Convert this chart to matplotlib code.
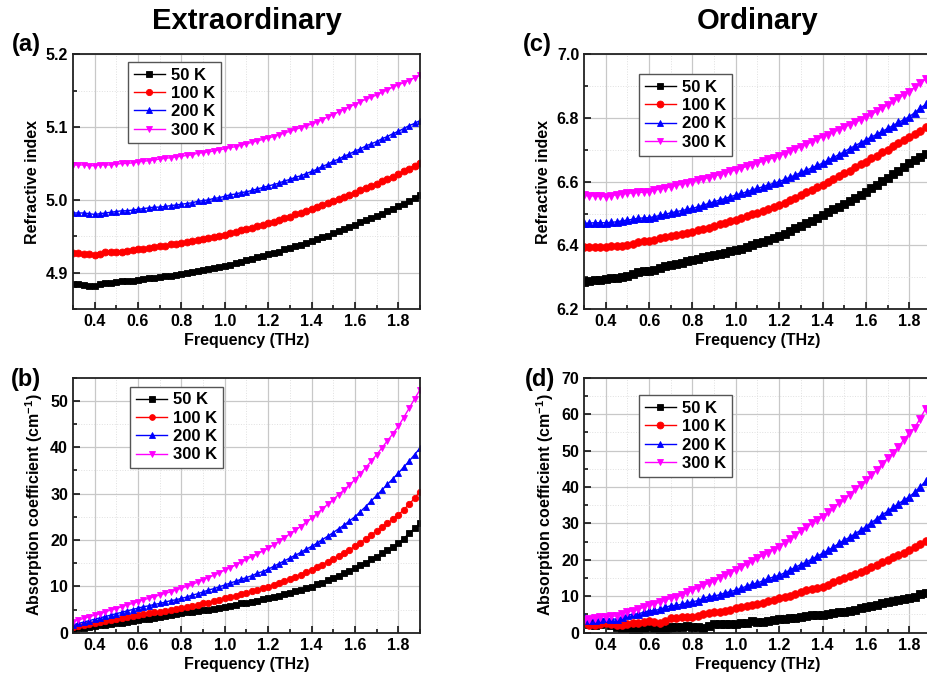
import matplotlib
matplotlib.use("Agg")
import matplotlib.pyplot as plt
from matplotlib.ticker import MultipleLocator

plt.rcParams["font.family"] = ["Liberation Sans", "DejaVu Sans"]
plt.rcParams["font.weight"] = "bold"
plt.rcParams["axes.labelweight"] = "bold"
plt.rcParams["mathtext.fontset"] = "custom"
plt.rcParams["mathtext.rm"] = "Liberation Sans:bold"
plt.rcParams["mathtext.bf"] = "Liberation Sans:bold"

# frequency grid (THz)
freq = [0.300, 0.325, 0.350, 0.375, 0.400, 0.425, 0.450, 0.475,
        0.500, 0.525, 0.550, 0.575, 0.600, 0.625, 0.650, 0.675,
        0.700, 0.725, 0.750, 0.775, 0.800, 0.825, 0.850, 0.875,
        0.900, 0.925, 0.950, 0.975, 1.000, 1.025, 1.050, 1.075,
        1.100, 1.125, 1.150, 1.175, 1.200, 1.225, 1.250, 1.275,
        1.300, 1.325, 1.350, 1.375, 1.400, 1.425, 1.450, 1.475,
        1.500, 1.525, 1.550, 1.575, 1.600, 1.625, 1.650, 1.675,
        1.700, 1.725, 1.750, 1.775, 1.800, 1.825, 1.850, 1.875,
        1.900]

labels = ["50 K", "100 K", "200 K", "300 K"]

# (a) extraordinary refractive index
n_e_50 = [4.884, 4.884, 4.883, 4.882, 4.881, 4.884, 4.886, 4.886,
          4.887, 4.888, 4.888, 4.889, 4.890, 4.891, 4.892, 4.893,
          4.894, 4.895, 4.896, 4.897, 4.898, 4.899, 4.901, 4.902,
          4.903, 4.905, 4.906, 4.908, 4.909, 4.911, 4.913, 4.915,
          4.917, 4.919, 4.921, 4.923, 4.925, 4.927, 4.929, 4.932,
          4.934, 4.936, 4.938, 4.941, 4.943, 4.946, 4.949, 4.951,
          4.954, 4.957, 4.960, 4.963, 4.966, 4.969, 4.972, 4.975,
          4.978, 4.981, 4.985, 4.988, 4.991, 4.995, 4.999, 5.002,
          5.006]
n_e_100 = [4.927, 4.927, 4.926, 4.925, 4.924, 4.926, 4.928, 4.928,
           4.929, 4.929, 4.930, 4.931, 4.932, 4.933, 4.934, 4.935,
           4.936, 4.937, 4.939, 4.940, 4.941, 4.942, 4.944, 4.945,
           4.946, 4.948, 4.949, 4.951, 4.952, 4.954, 4.956, 4.958,
           4.960, 4.962, 4.964, 4.966, 4.968, 4.970, 4.972, 4.975,
           4.977, 4.980, 4.982, 4.985, 4.987, 4.990, 4.993, 4.996,
           4.999, 5.001, 5.004, 5.007, 5.010, 5.013, 5.016, 5.019,
           5.022, 5.026, 5.029, 5.032, 5.035, 5.039, 5.043, 5.047,
           5.051]
n_e_200 = [4.982, 4.982, 4.982, 4.981, 4.980, 4.981, 4.982, 4.983,
           4.984, 4.985, 4.985, 4.986, 4.987, 4.988, 4.989, 4.990,
           4.990, 4.991, 4.992, 4.993, 4.994, 4.995, 4.996, 4.998,
           4.999, 5.000, 5.002, 5.003, 5.005, 5.007, 5.008, 5.010,
           5.011, 5.013, 5.015, 5.017, 5.019, 5.021, 5.023, 5.026,
           5.028, 5.031, 5.033, 5.036, 5.039, 5.042, 5.046, 5.049,
           5.053, 5.056, 5.060, 5.063, 5.067, 5.070, 5.074, 5.077,
           5.080, 5.084, 5.087, 5.091, 5.094, 5.098, 5.102, 5.105,
           5.109]
n_e_300 = [5.048, 5.048, 5.048, 5.047, 5.047, 5.048, 5.048, 5.048,
           5.049, 5.050, 5.050, 5.051, 5.052, 5.053, 5.054, 5.055,
           5.056, 5.057, 5.058, 5.059, 5.060, 5.061, 5.062, 5.064,
           5.065, 5.066, 5.067, 5.069, 5.070, 5.072, 5.073, 5.075,
           5.077, 5.079, 5.081, 5.083, 5.085, 5.087, 5.089, 5.092,
           5.094, 5.097, 5.099, 5.102, 5.104, 5.107, 5.110, 5.114,
           5.117, 5.121, 5.124, 5.128, 5.131, 5.135, 5.138, 5.141,
           5.144, 5.148, 5.151, 5.155, 5.158, 5.161, 5.164, 5.168,
           5.171]

# (b) extraordinary absorption coefficient (cm^-1)
a_e_50 = [0.8, 1.0, 1.1, 1.3, 1.4, 1.6, 1.7, 1.9,
          2.0, 2.2, 2.3, 2.5, 2.7, 2.9, 3.0, 3.2,
          3.4, 3.6, 3.8, 4.0, 4.2, 4.4, 4.5, 4.7,
          4.9, 5.0, 5.2, 5.4, 5.6, 5.8, 6.0, 6.3,
          6.5, 6.7, 6.9, 7.2, 7.4, 7.7, 8.0, 8.3,
          8.6, 8.9, 9.2, 9.6, 9.9, 10.4, 10.8, 11.3,
          11.8, 12.3, 12.8, 13.3, 13.9, 14.5, 15.1, 15.8,
          16.4, 17.1, 17.8, 18.5, 19.3, 20.3, 21.4, 22.5,
          23.6]
a_e_100 = [1.2, 1.4, 1.6, 1.8, 2.0, 2.3, 2.6, 2.8,
           3.0, 3.2, 3.4, 3.6, 3.8, 4.0, 4.2, 4.4,
           4.5, 4.7, 4.9, 5.1, 5.3, 5.5, 5.8, 6.0,
           6.3, 6.5, 6.8, 7.1, 7.4, 7.7, 8.0, 8.3,
           8.6, 8.9, 9.2, 9.6, 9.9, 10.3, 10.7, 11.2,
           11.6, 12.1, 12.5, 13.0, 13.5, 14.1, 14.7, 15.3,
           15.9, 16.6, 17.2, 17.9, 18.6, 19.4, 20.2, 21.1,
           21.9, 22.8, 23.6, 24.5, 25.4, 26.5, 27.7, 29.0,
           30.4]
a_e_200 = [1.7, 2.0, 2.3, 2.6, 2.9, 3.2, 3.5, 3.8,
           4.1, 4.4, 4.7, 5.0, 5.3, 5.6, 5.8, 6.1,
           6.3, 6.6, 6.9, 7.1, 7.4, 7.7, 8.1, 8.4,
           8.8, 9.2, 9.5, 9.9, 10.3, 10.7, 11.1, 11.5,
           11.9, 12.3, 12.8, 13.2, 13.7, 14.3, 14.9, 15.5,
           16.1, 16.7, 17.3, 18.0, 18.6, 19.3, 20.1, 20.8,
           21.6, 22.4, 23.2, 24.1, 25.0, 26.1, 27.2, 28.4,
           29.6, 30.8, 32.0, 33.2, 34.4, 35.7, 37.0, 38.4,
           39.8]
a_e_300 = [2.4, 2.7, 3.1, 3.4, 3.8, 4.1, 4.5, 4.9,
           5.2, 5.6, 6.0, 6.3, 6.7, 7.1, 7.4, 7.8,
           8.1, 8.5, 8.8, 9.2, 9.6, 10.0, 10.4, 10.9,
           11.4, 11.9, 12.4, 12.9, 13.5, 14.0, 14.6, 15.2,
           15.8, 16.4, 17.0, 17.6, 18.2, 18.9, 19.7, 20.5,
           21.3, 22.1, 22.9, 23.8, 24.7, 25.7, 26.7, 27.7,
           28.7, 29.8, 30.8, 31.9, 33.0, 34.3, 35.6, 37.0,
           38.4, 39.9, 41.4, 42.9, 44.5, 46.4, 48.4, 50.4,
           52.4]

# (c) ordinary refractive index
n_o_50 = [6.286, 6.288, 6.290, 6.292, 6.293, 6.296, 6.298, 6.300,
          6.303, 6.310, 6.316, 6.318, 6.321, 6.324, 6.328, 6.334,
          6.337, 6.340, 6.345, 6.350, 6.354, 6.358, 6.362, 6.366,
          6.369, 6.373, 6.377, 6.381, 6.385, 6.390, 6.396, 6.401,
          6.407, 6.412, 6.418, 6.423, 6.429, 6.437, 6.445, 6.453,
          6.462, 6.470, 6.478, 6.487, 6.495, 6.504, 6.513, 6.522,
          6.531, 6.540, 6.550, 6.559, 6.568, 6.579, 6.590, 6.602,
          6.613, 6.624, 6.635, 6.647, 6.658, 6.668, 6.678, 6.688,
          6.698]
n_o_100 = [6.394, 6.395, 6.396, 6.396, 6.396, 6.397, 6.398, 6.399,
           6.401, 6.405, 6.410, 6.413, 6.415, 6.418, 6.422, 6.425,
           6.429, 6.432, 6.436, 6.439, 6.443, 6.447, 6.452, 6.456,
           6.461, 6.466, 6.470, 6.475, 6.480, 6.485, 6.491, 6.497,
           6.503, 6.509, 6.515, 6.521, 6.527, 6.534, 6.542, 6.550,
           6.558, 6.566, 6.574, 6.582, 6.590, 6.599, 6.608, 6.617,
           6.626, 6.635, 6.645, 6.654, 6.663, 6.673, 6.682, 6.692,
           6.701, 6.711, 6.720, 6.730, 6.739, 6.750, 6.760, 6.771,
           6.781]
n_o_200 = [6.469, 6.470, 6.471, 6.471, 6.471, 6.472, 6.474, 6.477,
           6.479, 6.482, 6.485, 6.486, 6.487, 6.490, 6.494, 6.498,
           6.502, 6.506, 6.509, 6.513, 6.516, 6.521, 6.526, 6.532,
           6.537, 6.542, 6.547, 6.553, 6.558, 6.563, 6.568, 6.574,
           6.579, 6.584, 6.590, 6.595, 6.600, 6.607, 6.614, 6.621,
           6.629, 6.636, 6.643, 6.651, 6.658, 6.667, 6.676, 6.685,
           6.694, 6.704, 6.713, 6.722, 6.731, 6.740, 6.749, 6.758,
           6.767, 6.776, 6.786, 6.795, 6.804, 6.817, 6.830, 6.843,
           6.857]
n_o_300 = [6.557, 6.556, 6.555, 6.554, 6.553, 6.556, 6.559, 6.561,
           6.563, 6.565, 6.566, 6.567, 6.568, 6.573, 6.577, 6.580,
           6.584, 6.588, 6.592, 6.596, 6.600, 6.604, 6.609, 6.613,
           6.618, 6.622, 6.627, 6.632, 6.637, 6.642, 6.648, 6.653,
           6.659, 6.664, 6.670, 6.675, 6.681, 6.688, 6.695, 6.703,
           6.710, 6.717, 6.725, 6.733, 6.741, 6.748, 6.756, 6.763,
           6.771, 6.779, 6.786, 6.794, 6.802, 6.811, 6.821, 6.831,
           6.841, 6.852, 6.862, 6.873, 6.883, 6.896, 6.909, 6.922,
           6.935]

# (d) ordinary absorption coefficient (cm^-1)
a_o_50 = [3.0, 2.4, 2.1, 2.3, 2.6, 2.0, 1.5, 1.3,
          1.2, 1.0, 0.9, 1.3, 1.8, 1.2, 0.6, 1.1,
          1.5, 1.6, 1.7, 1.8, 1.7, 1.5, 1.4, 1.9,
          2.3, 2.4, 2.3, 2.3, 2.4, 2.6, 2.8, 3.1,
          3.0, 2.9, 3.2, 3.5, 3.7, 3.8, 3.9, 4.1,
          4.3, 4.7, 4.9, 4.8, 4.9, 5.2, 5.5, 5.6,
          5.8, 6.0, 6.3, 6.7, 7.1, 7.2, 7.6, 8.1,
          8.4, 8.7, 9.0, 9.2, 9.4, 9.9, 10.5, 11.0,
          11.5]
a_o_100 = [2.6, 2.0, 2.0, 2.4, 2.6, 2.3, 2.0, 2.1,
           2.4, 2.6, 2.7, 3.0, 3.2, 2.9, 2.7, 3.3,
           3.9, 4.1, 4.2, 4.3, 4.4, 4.6, 5.0, 5.4,
           5.6, 5.8, 6.0, 6.3, 6.7, 7.0, 7.4, 7.7,
           7.9, 8.1, 8.6, 9.0, 9.4, 9.7, 10.1, 10.6,
           11.1, 11.6, 12.0, 12.3, 12.6, 13.2, 13.8, 14.4,
           15.0, 15.6, 16.2, 16.7, 17.2, 17.9, 18.6, 19.3,
           20.0, 20.7, 21.4, 22.0, 22.7, 23.5, 24.3, 25.1,
           26.0]
a_o_200 = [4.2, 3.6, 3.6, 3.8, 3.9, 3.8, 3.7, 4.3,
           4.9, 5.0, 5.2, 5.6, 6.0, 6.1, 6.4, 7.0,
           7.4, 7.5, 7.8, 8.2, 8.5, 8.8, 9.4, 9.9,
           10.1, 10.4, 10.9, 11.3, 11.7, 12.2, 12.8, 13.3,
           13.7, 14.2, 14.9, 15.3, 15.8, 16.4, 17.2, 18.0,
           18.7, 19.4, 20.2, 21.0, 21.8, 22.6, 23.5, 24.5,
           25.4, 26.2, 27.2, 28.1, 29.1, 30.2, 31.3, 32.4,
           33.3, 34.4, 35.4, 36.4, 37.3, 38.6, 40.0, 41.6,
           43.0]
a_o_300 = [3.5, 3.7, 4.0, 4.3, 4.4, 4.5, 4.6, 5.2,
           5.8, 6.0, 6.4, 7.0, 7.6, 7.9, 8.4, 9.0,
           9.4, 9.8, 10.3, 11.1, 11.7, 12.3, 13.0, 13.6,
           14.2, 15.0, 15.8, 16.5, 17.2, 17.9, 18.8, 19.6,
           20.4, 21.2, 22.0, 22.8, 23.6, 24.7, 25.8, 26.8,
           27.8, 28.9, 30.0, 30.9, 31.8, 33.0, 34.3, 35.6,
           36.6, 37.9, 39.4, 40.6, 41.9, 43.3, 44.7, 46.3,
           47.9, 49.4, 51.0, 53.0, 54.7, 56.3, 58.8, 61.5,
           63.8]

colors = ["black", "#ff0000", "#0000ff", "#ff00ff"]
markers = ["s", "o", "^", "v"]
ab_label = r"Absorption coefficient (cm$^{\mathbf{-1}}$)"

fig = plt.figure(figsize=(9.27, 6.84), dpi=100)


def panel(rect, series, ylim, ymajor, yminor, ylabel, leg_anchor, msize):
    ax = fig.add_axes(rect)
    for ys, c, m, lab in zip(series, colors, markers, labels):
        ax.plot(freq, ys, color=c, marker=m, markersize=msize, linewidth=1,
                markeredgewidth=0.6, label=lab)
    ax.set_xlim(0.3, 1.9)
    ax.set_ylim(*ylim)
    ax.xaxis.set_major_locator(MultipleLocator(0.2))
    ax.xaxis.set_minor_locator(MultipleLocator(0.1))
    ax.yaxis.set_major_locator(MultipleLocator(ymajor))
    ax.yaxis.set_minor_locator(MultipleLocator(yminor))
    ax.grid(True, which="major", color="#c8c8c8", linewidth=0.9)
    ax.grid(True, which="minor", color="#e0e0e0", linewidth=0.7, linestyle=":")
    ax.set_axisbelow(True)
    ax.tick_params(which="both", direction="in", labelsize=11.5, width=1.1)
    ax.tick_params(which="major", length=5)
    ax.tick_params(which="minor", length=3)
    for sp in ax.spines.values():
        sp.set_linewidth(1.3)
        sp.set_color("#222222")
    ax.set_xlabel("Frequency (THz)", fontsize=11.5, labelpad=3)
    ax.set_ylabel(ylabel, fontsize=11.5, labelpad=4)
    leg = ax.legend(loc="upper left", bbox_to_anchor=leg_anchor, borderaxespad=0,
                    fontsize=12, handlelength=1.9, handletextpad=0.35,
                    labelspacing=0.2, fancybox=False, framealpha=1,
                    edgecolor="#555555", borderpad=0.35, markerscale=0.9)
    leg.get_frame().set_linewidth(1.0)
    return ax


panel([0.0787, 0.5482, 0.3743, 0.3724], [n_e_50, n_e_100, n_e_200, n_e_300],
      (4.85, 5.2), 0.1, 0.05, "Refractive index", (0.158, 0.971), 5)
panel([0.0787, 0.0750, 0.3743, 0.3728], [a_e_50, a_e_100, a_e_200, a_e_300],
      (0, 55), 10, 5, ab_label, (0.164, 0.965), 4.6)
panel([0.6300, 0.5482, 0.3743, 0.3724], [n_o_50, n_o_100, n_o_200, n_o_300],
      (6.2, 7.0), 0.2, 0.1, "Refractive index", (0.158, 0.923), 5.5)
panel([0.6300, 0.0750, 0.3743, 0.3728], [a_o_50, a_o_100, a_o_200, a_o_300],
      (0, 70), 10, 5, ab_label, (0.158, 0.932), 5.5)

fig.text(0.266, 0.970, "Extraordinary", ha="center", va="center",
         fontsize=21, fontweight="bold")
fig.text(0.817, 0.970, "Ordinary", ha="center", va="center",
         fontsize=21, fontweight="bold")

for txt, x, y in [("(a)", 0.028, 0.935), ("(b)", 0.028, 0.445),
                  ("(c)", 0.580, 0.935), ("(d)", 0.582, 0.445)]:
    fig.text(x, y, txt, ha="center", va="center", fontsize=17, fontweight="bold")

fig.savefig("out.png", dpi=100)
